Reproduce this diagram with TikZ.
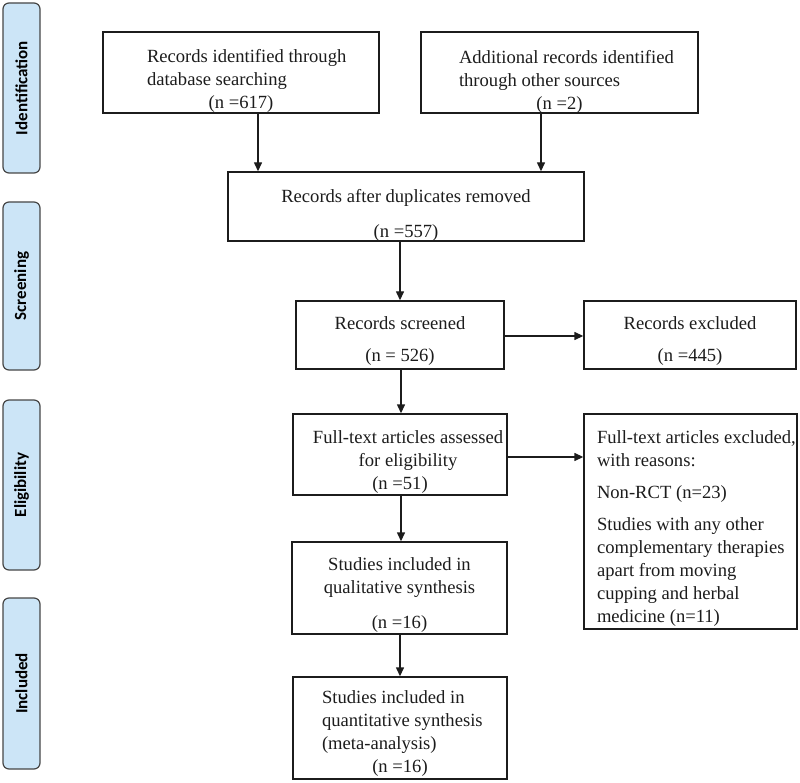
\documentclass[tikz,border=0pt]{standalone}
\usepackage{fontspec}
\setmainfont{Liberation Serif}
\newfontfamily\barfont{Carlito}
\usetikzlibrary{arrows.meta}
\definecolor{barfill}{RGB}{204,229,247}
\definecolor{barline}{RGB}{70,70,70}
\definecolor{ink}{RGB}{28,28,28}
\newcommand\fl{\rule{0pt}{13pt}}
\newcommand\bxt[4]{\parbox[c][#2][t]{#1}{\fontsize{18.6}{23}\selectfont\vspace*{#3}#4}}
\tikzset{
  box/.style={draw=ink, line width=1.4pt, inner sep=0pt, text=ink},
  bar/.style={draw=barline, fill=barfill, line width=1.2pt, rounded corners=6pt,
    rotate=90, minimum height=37pt, inner sep=0pt, font=\barfont\bfseries\fontsize{17}{19}\selectfont, text=black},
  arr/.style={draw=ink, line width=1.4pt, -{Triangle[length=9pt,width=8pt]}}
}
\begin{document}
\begin{tikzpicture}[x=1pt,y=-1pt]
\useasboundingbox (0,0) rectangle (800,783);
% side bars
\node[bar, minimum width=170pt] (sid) at (21.5,88) {Identification};
\node[bar, minimum width=168pt] (sscr) at (21.5,286) {Screening};
\node[bar, minimum width=170pt] (selig) at (21.5,485) {Eligibility};
\node[bar, minimum width=171pt] (sinc) at (21.5,683.5) {Included};
% boxes
\node[box] (b1) at (241,72.5) {\bxt{276pt}{81pt}{17pt}{%
  {\fl\hspace*{44pt}Records identified through\\\hspace*{44pt}database searching\par}{\centering (n =617)\par}}};
\node[box] (b2) at (559.5,72.5) {\bxt{277pt}{81pt}{18pt}{%
  {\fl\hspace*{38pt}Additional records identified\\\hspace*{38pt}through other sources\par}{\centering (n =2)\par}}};
\node[box] (b3) at (406,206.5) {\bxt{356pt}{69pt}{17pt}{%
  \centering\fl Records after duplicates removed\\[12pt](n =557)\par}};
\node[box] (b4) at (400,335) {\bxt{208pt}{68pt}{16pt}{%
  \centering\fl Records screened\\[9pt](n = 526)\par}};
\node[box] (b5) at (690,335) {\bxt{212pt}{68pt}{16pt}{%
  \centering\fl Records excluded\\[9pt](n =445)\par}};
\node[box] (b6) at (400,454.5) {\bxt{214pt}{81pt}{16pt}{%
  \centering\fl\hspace*{16pt}Full-text articles assessed\\\hspace*{16pt}for eligibility\\(n =51)\par}};
\node[box] (b7) at (690.5,521.5) {\bxt{213pt}{215pt}{16pt}{%
  \leftskip=13pt \rightskip=-30pt plus 1fil \parfillskip=0pt plus 1fil
  \fl Full-text articles excluded,\par with reasons:\par\vspace{9pt}Non-RCT (n=23)\par
  \vspace{9pt}Studies with any other\par complementary therapies\par apart from moving\par
  cupping and herbal\par medicine (n=11)\par}};
\node[box] (b8) at (399.5,588) {\bxt{215pt}{92pt}{15pt}{%
  \centering\fl Studies included in\\qualitative synthesis\\[12pt](n =16)\par}};
\node[box] (b9) at (400,728) {\bxt{214pt}{102pt}{13pt}{%
  {\fl\hspace*{29pt}Studies included in\\\hspace*{29pt}quantitative synthesis\\\hspace*{29pt}(meta-analysis)\par}{\centering (n =16)\par}}};
% connectors
\draw[arr] ([xshift=17pt]b1.south) -- ([xshift=17pt]b1.south |- b3.north);
\draw[arr] ([xshift=-18.5pt]b2.south) -- ([xshift=-18.5pt]b2.south |- b3.north);
\draw[arr] (b3.south -| b4.north) -- (b4.north);
\draw[arr] ([yshift=-1pt]b4.east) -- ([yshift=-1pt]b4.east -| b5.west);
\draw[arr] ([xshift=1pt]b4.south) -- ([xshift=1pt]b4.south |- b6.north);
\draw[arr] ([yshift=-2.5pt]b6.east) -- ([yshift=-2.5pt]b6.east -| b7.west);
\draw[arr] ([xshift=1pt]b6.south) -- ([xshift=1pt]b6.south |- b8.north);
\draw[arr] ([xshift=0.5pt]b8.south) -- ([xshift=0.5pt]b8.south |- b9.north);
\end{tikzpicture}
\end{document}
